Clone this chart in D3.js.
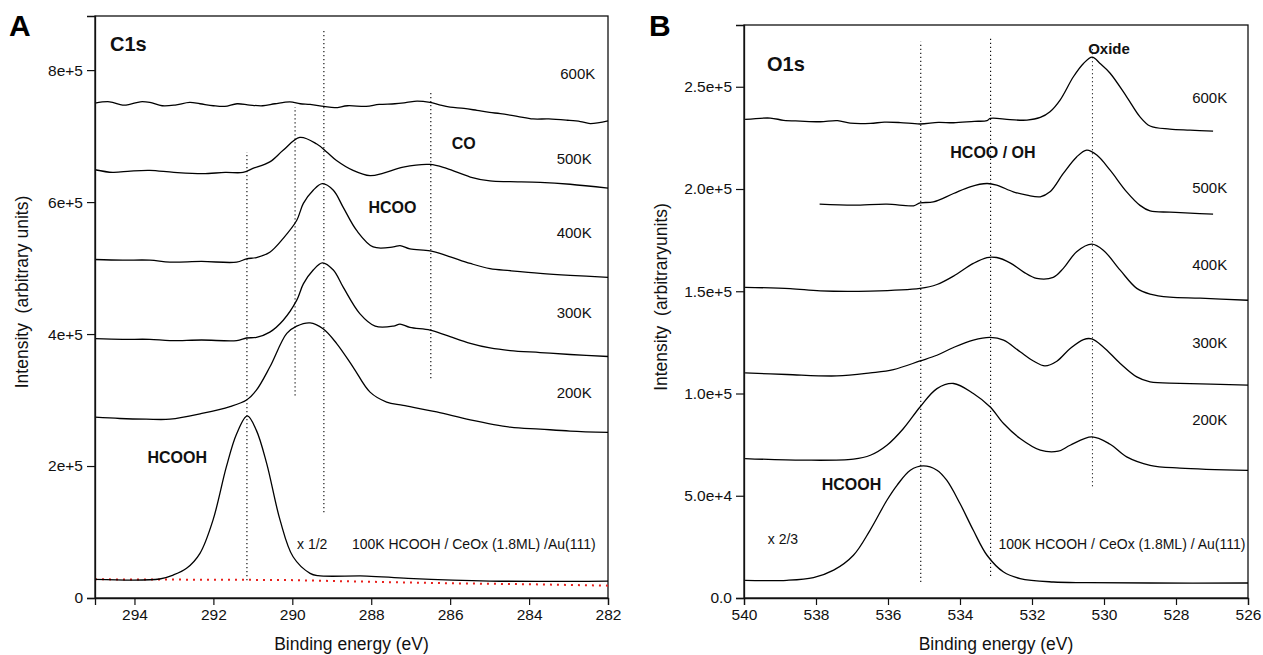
<!DOCTYPE html>
<html><head><meta charset="utf-8">
<script src="https://cdn.jsdelivr.net/npm/d3@7"></script>
<style>
body{margin:0;background:#fff;}
svg{display:block;font-family:"Liberation Sans",Arial,Helvetica,sans-serif;}
</style></head>
<body><svg id="c" width="1263" height="655"></svg>
<script>
// ---------------- DATA: panel A (C1s) ----------------
const tempsA = ["600K","500K","400K","300K","200K","100K"];
const c1s_600K = [[295,7.50e5],[294.63,7.52e5],[294.3,7.47e5],[294.12,7.48e5],[293.85,7.52e5],[293.61,7.51e5],[293.3,7.46e5],[292.97,7.47e5],[292.6,7.51e5],[292.34,7.49e5],[292.0,7.46e5],[291.71,7.45e5],[291.4,7.49e5],[291.08,7.47e5],[290.75,7.46e5],[290.44,7.49e5],[290.06,7.52e5],[289.8,7.49e5],[289.55,7.48e5],[289.2,7.45e5],[288.92,7.43e5],[288.6,7.46e5],[288.13,7.45e5],[287.8,7.48e5],[287.4,7.49e5],[287.1,7.51e5],[286.84,7.53e5],[286.51,7.51e5],[286.25,7.47e5],[286.0,7.44e5],[285.65,7.42e5],[285.32,7.39e5],[285.0,7.36e5],[284.73,7.34e5],[284.3,7.30e5],[283.9,7.26e5],[283.5,7.26e5],[283.03,7.24e5],[282.7,7.22e5],[282.45,7.19e5],[282.0,7.23e5]];
const c1s_500K = [[295,6.49e5],[294.55,6.45e5],[294.1,6.47e5],[293.61,6.48e5],[293.0,6.45e5],[292.27,6.43e5],[291.7,6.45e5],[291.25,6.45e5],[291.0,6.51e5],[290.57,6.61e5],[290.24,6.78e5],[289.81,6.98e5],[289.38,6.88e5],[289.13,6.76e5],[288.88,6.63e5],[288.46,6.48e5],[288.03,6.40e5],[287.69,6.44e5],[287.19,6.53e5],[286.51,6.57e5],[286.09,6.51e5],[285.49,6.38e5],[284.99,6.32e5],[284.48,6.31e5],[283.72,6.30e5],[282.96,6.27e5],[282.0,6.21e5]];
const c1s_400K = [[295,5.13e5],[294.3,5.12e5],[293.61,5.12e5],[293.10,5.09e5],[292.3,5.10e5],[291.41,5.09e5],[291.16,5.14e5],[290.91,5.16e5],[290.57,5.24e5],[290.23,5.45e5],[289.89,5.72e5],[289.72,5.98e5],[289.47,6.18e5],[289.24,6.28e5],[288.96,6.18e5],[288.71,5.92e5],[288.37,5.57e5],[287.95,5.32e5],[287.44,5.32e5],[287.27,5.34e5],[287.02,5.29e5],[286.51,5.26e5],[286.09,5.19e5],[285.49,5.07e5],[284.99,4.99e5],[284.48,4.96e5],[283.72,4.92e5],[282.96,4.89e5],[282.0,4.86e5]];
const c1s_300K = [[295,3.93e5],[294.3,3.92e5],[293.61,3.92e5],[293.10,3.90e5],[292.3,3.91e5],[291.41,3.90e5],[291.16,3.94e5],[290.91,3.95e5],[290.57,4.03e5],[290.23,4.21e5],[289.89,4.51e5],[289.72,4.76e5],[289.47,4.97e5],[289.24,5.08e5],[288.96,4.97e5],[288.71,4.71e5],[288.29,4.31e5],[287.90,4.12e5],[287.44,4.12e5],[287.27,4.15e5],[287.02,4.10e5],[286.51,4.06e5],[286.09,3.98e5],[285.49,3.86e5],[284.99,3.79e5],[284.48,3.75e5],[283.72,3.72e5],[282.96,3.69e5],[282.0,3.66e5]];
const c1s_200K = [[295,2.74e5],[294.37,2.72e5],[293.7,2.71e5],[293.10,2.71e5],[292.26,2.80e5],[291.58,2.90e5],[291.16,3.00e5],[290.91,3.15e5],[290.57,3.50e5],[290.14,4.01e5],[289.89,4.12e5],[289.55,4.17e5],[289.22,4.08e5],[288.88,3.86e5],[288.46,3.50e5],[288.03,3.12e5],[287.61,2.97e5],[287.19,2.92e5],[286.34,2.82e5],[285.49,2.70e5],[284.48,2.59e5],[283.72,2.56e5],[282.96,2.53e5],[282.0,2.51e5]];
const c1s_100K = [[295,0.283e5],[293.36,0.288e5],[293.02,0.348e5],[292.68,0.450e5],[292.34,0.677e5],[292.01,1.18e5],[291.67,1.99e5],[291.41,2.49e5],[291.14,2.76e5],[290.91,2.54e5],[290.65,2.04e5],[290.31,1.18e5],[289.98,0.625e5],[289.55,0.374e5],[289.35,0.338e5],[288.11,0.333e5],[287.07,0.298e5],[284.99,0.257e5],[282.0,0.257e5]];
const c1s_background = [[295,0.283e5],[290.16,0.273e5],[288.11,0.247e5],[286.03,0.223e5],[283.95,0.208e5],[282.0,0.187e5]];
// dotted reference lines: [eV, from, to]
const c1s_refLines = [[291.15,0.27e5,6.76e5],[289.93,3.07e5,7.44e5],[289.2,1.30e5,8.63e5],[286.49,3.33e5,7.69e5]];
const xTicksA = [294,292,290,288,286,284,282];
const yTicksA = [0,2e5,4e5,6e5,8e5];
const yTickLabelsA = ["0","2e+5","4e+5","6e+5","8e+5"];

// ---------------- DATA: panel B (O1s) ----------------
const o1s_600K = [[539.97,2.340e5],[539.27,2.347e5],[538.9,2.336e5],[538.44,2.332e5],[537.88,2.329e5],[537.4,2.334e5],[537.05,2.322e5],[536.49,2.321e5],[536.1,2.327e5],[535.66,2.325e5],[535.11,2.318e5],[534.6,2.326e5],[534.18,2.324e5],[533.6,2.331e5],[533.25,2.334e5],[533.16,2.345e5],[532.61,2.339e5],[532.14,2.337e5],[531.77,2.350e5],[531.50,2.378e5],[531.22,2.435e5],[530.85,2.549e5],[530.57,2.614e5],[530.33,2.645e5],[530.11,2.614e5],[529.83,2.566e5],[529.37,2.451e5],[529.00,2.353e5],[528.72,2.308e5],[528.17,2.293e5],[527.61,2.288e5],[526.97,2.283e5]];
const o1s_500K = [[537.90,1.926e5],[536.96,1.921e5],[536.03,1.926e5],[535.29,1.918e5],[535.11,1.932e5],[534.74,1.937e5],[534.18,1.978e5],[533.72,2.011e5],[533.25,2.027e5],[532.98,2.019e5],[532.52,1.986e5],[532.14,1.970e5],[531.77,1.962e5],[531.50,1.986e5],[531.13,2.076e5],[530.76,2.157e5],[530.48,2.190e5],[530.20,2.166e5],[529.83,2.092e5],[529.37,1.986e5],[529.00,1.920e5],[528.72,1.893e5],[528.17,1.887e5],[527.61,1.882e5],[526.97,1.877e5]];
const o1s_400K = [[539.97,1.519e5],[538.72,1.513e5],[537.88,1.502e5],[536.49,1.501e5],[535.11,1.514e5],[534.64,1.533e5],[534.18,1.574e5],[533.63,1.636e5],[533.25,1.665e5],[532.98,1.665e5],[532.61,1.639e5],[532.24,1.595e5],[531.87,1.563e5],[531.41,1.568e5],[531.13,1.612e5],[530.76,1.693e5],[530.34,1.730e5],[530.02,1.701e5],[529.55,1.603e5],[529.09,1.514e5],[528.72,1.486e5],[528.17,1.471e5],[527.33,1.466e5],[526.0,1.456e5]];
const o1s_300K = [[539.97,1.101e5],[538.81,1.093e5],[537.42,1.086e5],[536.49,1.101e5],[535.85,1.117e5],[535.11,1.159e5],[534.64,1.187e5],[534.18,1.225e5],[533.63,1.261e5],[533.16,1.274e5],[532.79,1.261e5],[532.33,1.204e5],[531.96,1.159e5],[531.64,1.135e5],[531.31,1.158e5],[530.94,1.220e5],[530.57,1.264e5],[530.34,1.267e5],[530.02,1.228e5],[529.55,1.147e5],[529.09,1.081e5],[528.72,1.057e5],[527.89,1.050e5],[526.0,1.041e5]];
const o1s_200K = [[539.97,0.682e5],[538.35,0.674e5],[536.96,0.679e5],[536.49,0.698e5],[536.03,0.747e5],[535.57,0.829e5],[535.11,0.934e5],[534.64,1.024e5],[534.18,1.049e5],[533.63,1.000e5],[533.16,0.934e5],[532.79,0.853e5],[532.33,0.780e5],[531.77,0.723e5],[531.27,0.718e5],[530.94,0.747e5],[530.34,0.788e5],[529.83,0.752e5],[529.37,0.690e5],[528.72,0.649e5],[527.89,0.635e5],[526.0,0.624e5]];
const o1s_100K = [[539.97,0.0866e5],[538.81,0.0866e5],[538.07,0.0998e5],[537.51,0.136e5],[536.96,0.209e5],[536.50,0.331e5],[536.03,0.478e5],[535.75,0.551e5],[535.38,0.625e5],[535.02,0.646e5],[534.64,0.625e5],[534.37,0.576e5],[534.00,0.462e5],[533.63,0.331e5],[533.25,0.209e5],[532.79,0.127e5],[532.33,0.0949e5],[531.41,0.0783e5],[530.48,0.0753e5],[528.72,0.0734e5],[526.0,0.0734e5]];
const o1s_refLines = [[535.09,0.078e5,2.72e5],[533.15,0.108e5,2.74e5],[530.32,0.546e5,2.71e5]];
const xTicksB = [540,538,536,534,532,530,528,526];
const yTicksB = [0,0.5e5,1.0e5,1.5e5,2.0e5,2.5e5];
const yTickLabelsB = ["0.0","5.0e+4","1.0e+5","1.5e+5","2.0e+5","2.5e+5"];

// annotations: [text, eV, intensity, bold, size]
const notesA = [["C1s",294.62,8.29e5,true,20],["600K",283.21,7.86e5,false,15],["CO",285.96,6.81e5,true,16],["500K",283.30,6.58e5,false,15],["HCOO",288.07,5.83e5,true,16],["400K",283.30,5.45e5,false,15],["300K",283.30,4.24e5,false,15],["200K",283.30,3.03e5,false,15],["HCOOH",293.67,2.05e5,true,16],["x 1/2",289.88,0.74e5,false,14],["100K HCOOH / CeOx (1.8ML) /Au(111)",288.49,0.74e5,false,14]];
const notesB = [["O1s",539.36,2.578e5,true,20],["Oxide",530.44,2.66e5,true,15],["600K",527.55,2.42e5,false,15],["HCOO / OH",534.27,2.153e5,true,16],["500K",527.55,1.98e5,false,15],["400K",527.55,1.603e5,false,15],["300K",527.55,1.222e5,false,15],["200K",527.55,0.845e5,false,15],["HCOOH",537.84,0.530e5,true,16],["x 2/3",539.34,0.266e5,false,14],["100K HCOOH / CeOx (1.8ML) / Au(111)",532.93,0.238e5,false,14]];

// ---------------- DRAW ----------------
const svg = d3.select("#c");

function panel(cfg){
  const x = d3.scaleLinear().domain(cfg.xDomain).range([cfg.left, cfg.right]);
  const y = d3.scaleLinear().domain(cfg.yDomain).range([cfg.bottom, cfg.top]);
  const g = svg.append("g");
  g.append("rect").attr("x",cfg.left).attr("y",cfg.top)
   .attr("width",cfg.right-cfg.left).attr("height",cfg.bottom-cfg.top)
   .attr("fill","none").attr("stroke","#111").attr("stroke-width",1.3);
  g.selectAll(".ref").data(cfg.refs).enter().append("line")
   .attr("x1",d=>x(d[0])).attr("x2",d=>x(d[0]))
   .attr("y1",d=>y(d[1])).attr("y2",d=>y(d[2]))
   .attr("stroke","#000").attr("stroke-width",1.1).attr("stroke-dasharray","1.2,2.8");
  if(cfg.bg){
    g.append("path").datum(cfg.bg)
     .attr("d",d3.line().x(d=>x(d[0])).y(d=>y(d[1])))
     .attr("fill","none").attr("stroke","#e8201c").attr("stroke-width",2)
     .attr("stroke-dasharray","2,5");
  }
  const line = d3.line().x(d=>x(d[0])).y(d=>y(d[1])).curve(d3.curveCatmullRom.alpha(0.5));
  g.selectAll(".spec").data(cfg.series).enter().append("path")
   .attr("d",d=>line(d)).attr("fill","none").attr("stroke","#000").attr("stroke-width",1.3);
  const xa = g.append("g").attr("transform",`translate(0,${cfg.bottom})`)
    .call(d3.axisBottom(x).tickValues(cfg.xTicks).tickSize(7).tickPadding(4).tickFormat(d3.format("d")));
  const ya = g.append("g").attr("transform",`translate(${cfg.left},0)`)
    .call(d3.axisLeft(y).tickValues(cfg.yTicks).tickSize(8).tickPadding(4).tickFormat((d,i)=>cfg.yLabels[i]));
  [xa,ya].forEach(a=>{
    a.select(".domain").attr("stroke","#111").attr("stroke-width",1.3);
    a.selectAll(".tick line").attr("stroke","#111").attr("stroke-width",1.2);
    a.selectAll("text").attr("font-size",15.5).attr("fill","#111").attr("font-family","Liberation Sans, Arial, sans-serif");
  });
  g.append("text").attr("x",(cfg.left+cfg.right)/2).attr("y",650)
   .attr("text-anchor","middle").attr("font-size",17.5).attr("fill","#111").text("Binding energy (eV)");
  g.append("text").attr("transform",`translate(${cfg.yTitleX},${cfg.yTitleY}) rotate(-90)`)
   .attr("text-anchor","middle").attr("font-size",17.5).attr("fill","#111")
   .style("white-space","pre").text(cfg.yTitle);
  g.selectAll(".note").data(cfg.notes).enter().append("text")
   .attr("x",d=>x(d[1])).attr("y",d=>y(d[2]))
   .attr("font-weight",d=>d[3]?"bold":"normal").attr("font-size",d=>d[4])
   .attr("fill","#111").style("white-space","pre").text(d=>d[0]);
  svg.append("text").attr("x",cfg.letterX).attr("y",36).attr("font-size",30)
   .attr("font-weight","bold").attr("fill","#000").text(cfg.letter);
}

panel({left:95,right:608,top:16,bottom:598,xDomain:[295,282],yDomain:[0,8.82e5],
  series:[c1s_600K,c1s_500K,c1s_400K,c1s_300K,c1s_200K,c1s_100K],bg:c1s_background,refs:c1s_refLines,
  xTicks:xTicksA,yTicks:yTicksA,yLabels:yTickLabelsA,notes:notesA,
  yTitle:"Intensity  (arbitrary units)",yTitleX:28,yTitleY:292,letter:"A",letterX:9});
panel({left:744,right:1248,top:25,bottom:598,xDomain:[540,526],yDomain:[0,2.802e5],
  series:[o1s_600K,o1s_500K,o1s_400K,o1s_300K,o1s_200K,o1s_100K],bg:null,refs:o1s_refLines,
  xTicks:xTicksB,yTicks:yTicksB,yLabels:yTickLabelsB,notes:notesB,
  yTitle:"Intensity  (arbitraryunits)",yTitleX:667,yTitleY:297,letter:"B",letterX:649});
</script></body></html>
